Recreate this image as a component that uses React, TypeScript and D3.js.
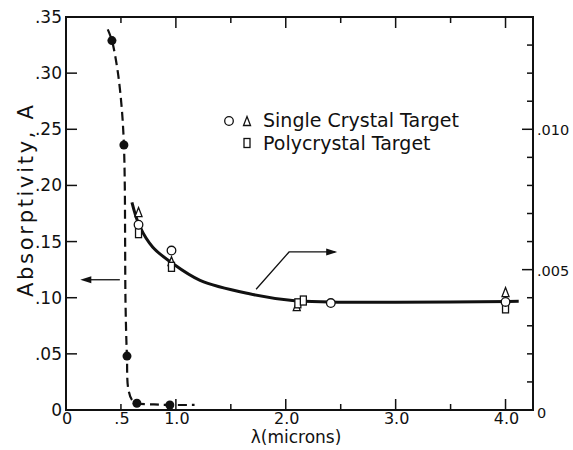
import React from "react";
import * as d3 from "d3";

// ---- data ----
const lambdaTicksMajor = [0, 0.5, 1.0, 2.0, 3.0, 4.0];
const lambdaTickLabels = ["0", ".5", "1.0", "2.0", "3.0", "4.0"];
const lambdaTicksAll = [0.5, 1.0, 1.5, 2.0, 2.5, 3.0, 3.5, 4.0];
const leftTicks = [0, 0.05, 0.1, 0.15, 0.2, 0.25, 0.3, 0.35];
const leftTickLabels = ["0", ".05", ".10", ".15", ".20", ".25", ".30", ".35"];
const rightTicks = [0, 0.001, 0.002, 0.003, 0.004, 0.005, 0.006, 0.007, 0.008, 0.009, 0.01, 0.011, 0.012, 0.013];
const rightLabeled = [0, 0.005, 0.01];
const rightTickLabels = ["0", ".005", ".010"];

// Absorptivity A (left axis) – filled circles and dashed fit
const filledLambda = [0.418, 0.527, 0.555, 0.645, 0.945];
const filledA = [0.329, 0.236, 0.048, 0.006, 0.0045];
const dashedLambda = [0.38, 0.418, 0.47, 0.508, 0.527, 0.535, 0.538, 0.541, 0.55, 0.555, 0.565, 0.6, 0.645, 0.8, 0.945, 1.17];
const dashedA = [0.339, 0.329, 0.302, 0.268, 0.236, 0.2, 0.15, 0.1, 0.06, 0.048, 0.02, 0.009, 0.006, 0.005, 0.0045, 0.0045];

// right axis – open markers and solid fit
const circleLambda = [0.66, 0.96, 2.41, 4.0];
const circleVal = [0.0066, 0.00568, 0.00381, 0.00385];
const triangleLambda = [0.66, 0.96, 2.1, 4.0];
const triangleVal = [0.00705, 0.0053, 0.0037, 0.0042];
const squareLambda = [0.66, 0.96, 2.11, 2.16, 4.0];
const squareVal = [0.0063, 0.0051, 0.0038, 0.0039, 0.00362];
const solidLambda = [0.6, 0.67, 0.79, 0.96, 1.22, 1.67, 2.06, 2.4, 3.0, 4.12];
const solidVal = [0.0074, 0.00655, 0.0058, 0.00525, 0.00462, 0.00414, 0.0039, 0.00385, 0.00384, 0.00387];

const legendLabels = ["Single Crystal Target", "Polycrystal Target"];

const W = 573;
const H = 450;
const FONT = "DejaVu Sans, sans-serif";

export default function App() {
  const x = d3.scaleLinear().domain([0, 4.25]).range([66, 533]);
  const yL = d3.scaleLinear().domain([0, 0.35]).range([410, 17]);
  const yR = d3.scaleLinear().domain([0, 0.014]).range([410, 17]);
  const [x0, x1] = x.range();
  const [yb, yt] = yL.range();

  const dashedPath = d3
    .line<number>()
    .x((_, i) => x(dashedLambda[i]))
    .y((d) => yL(d))
    .curve(d3.curveCatmullRom.alpha(0.5))(dashedA) as string;
  const solidPath = d3
    .line<number>()
    .x((_, i) => x(solidLambda[i]))
    .y((d) => yR(d))
    .curve(d3.curveCatmullRom.alpha(0.5))(solidVal) as string;

  const tri = (cx: number, cy: number, w = 7, h = 9) =>
    `M${cx},${cy - h / 2}L${cx + w / 2},${cy + h / 2}L${cx - w / 2},${cy + h / 2}Z`;

  // annotation arrows (data coords)
  const leftArrowY = yL(0.116);
  const la1 = x(0.49);
  const la0 = x(0.13);
  const rA = [
    [x(1.73), yR(0.0043)],
    [x(2.03), yR(0.00563)],
    [x(2.45), yR(0.00563)],
  ];

  const mk = { stroke: "#111", strokeWidth: 1.3, fill: "#fff" };

  return (
    <svg width={W} height={H} style={{ position: "absolute", left: 0, top: 0, background: "#fff" }} fontFamily={FONT}>
      <rect width={W} height={H} fill="#fff" />
      {/* frame */}
      <path d={`M${x0},${yt}V${yb}H${x1}V${yt}Z`} fill="none" stroke="#111" strokeWidth={2} />
      {/* bottom & top ticks */}
      {lambdaTicksAll.map((t) => {
        const len = Number.isInteger(t) ? 11 : 6;
        return (
          <g key={"xt" + t} stroke="#111" strokeWidth={1.5}>
            <line x1={x(t)} x2={x(t)} y1={yb} y2={yb - len} />
            <line x1={x(t)} x2={x(t)} y1={yt} y2={yt + len} />
          </g>
        );
      })}
      {lambdaTicksMajor.map((t, i) => (
        <text key={"xl" + t} x={x(t) + 1} y={424} fontSize={16} textAnchor="middle" fill="#111">
          {lambdaTickLabels[i]}
        </text>
      ))}
      {/* left ticks */}
      {leftTicks.map((t, i) => (
        <g key={"lt" + t}>
          <line x1={x0} x2={x0 + 11} y1={yL(t)} y2={yL(t)} stroke="#111" strokeWidth={1.5} />
          <text x={62} y={yL(t) + 6} fontSize={17} textAnchor="end" fill="#111">
            {leftTickLabels[i]}
          </text>
        </g>
      ))}
      {/* right ticks */}
      {rightTicks.map((t) => {
        const major = rightLabeled.some((v) => Math.abs(v - t) < 1e-9);
        return (
          <line key={"rt" + t} x1={x1} x2={x1 - (major ? 11 : 6)} y1={yR(t)} y2={yR(t)} stroke="#111" strokeWidth={1.5} />
        );
      })}
      {rightLabeled.map((t, i) => (
        <text key={"rl" + t} x={537} y={yR(t) + (i === 0 ? 8 : 6)} fontSize={14.5} fill="#111">
          {rightTickLabels[i]}
        </text>
      ))}
      {/* axis titles */}
      <text x={296} y={443} fontSize={17} textAnchor="middle" fill="#111">
        λ(microns)
      </text>
      <text
        transform={`translate(33,201) rotate(-90)`}
        fontSize={21}
        textAnchor="middle"
        fill="#111"
        textLength={192}
        lengthAdjust="spacing"
      >
        Absorptivity, A
      </text>

      {/* dashed fit */}
      <path d={dashedPath} fill="none" stroke="#111" strokeWidth={2.2} strokeDasharray="9,5" />
      {filledLambda.map((l, i) => (
        <circle key={"fc" + i} cx={x(l)} cy={yL(filledA[i])} r={4.5} fill="#111" />
      ))}

      {/* solid fit */}
      <path d={solidPath} fill="none" stroke="#111" strokeWidth={3} />
      {triangleLambda.map((l, i) => (
        <path key={"tr" + i} d={tri(x(l), yR(triangleVal[i]))} {...mk} />
      ))}
      {squareLambda.map((l, i) => (
        <rect key={"sq" + i} x={x(l) - 3} y={yR(squareVal[i]) - 4.5} width={6} height={9} {...mk} />
      ))}
      {circleLambda.map((l, i) => (
        <circle key={"oc" + i} cx={x(l)} cy={yR(circleVal[i])} r={4.3} {...mk} />
      ))}

      {/* arrows */}
      <line x1={la1} x2={la0 + 8} y1={leftArrowY} y2={leftArrowY} stroke="#111" strokeWidth={1.3} />
      <path d={`M${la0},${leftArrowY}l11,-3.5v7Z`} fill="#111" />
      <polyline
        points={rA.map((p) => p.join(",")).join(" ")}
        fill="none"
        stroke="#111"
        strokeWidth={1.3}
      />
      <path d={`M${rA[2][0] + 2},${rA[2][1]}l-11,-3.5v7Z`} fill="#111" />

      {/* legend */}
      <circle cx={229} cy={121} r={4.3} {...mk} />
      <path d={tri(247, 121)} {...mk} />
      <text x={263} y={127} fontSize={19} fill="#111">
        {legendLabels[0]}
      </text>
      <rect x={244} y={138.5} width={6} height={9} {...mk} />
      <text x={263} y={150} fontSize={19} fill="#111">
        {legendLabels[1]}
      </text>
    </svg>
  );
}
